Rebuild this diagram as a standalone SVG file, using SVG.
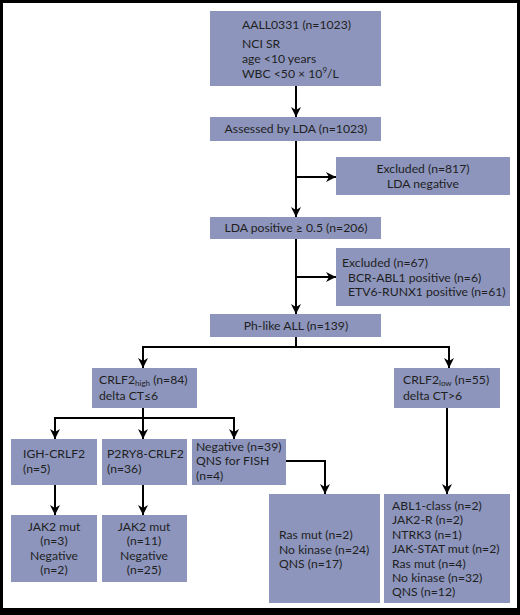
<svg xmlns="http://www.w3.org/2000/svg" width="520" height="615" viewBox="0 0 520 615">
<defs>
<marker id="ah" markerWidth="10" markerHeight="10" viewBox="0 0 10 10" refX="10" refY="5" orient="auto" markerUnits="userSpaceOnUse">
<path d="M0,0 L10,5 L0,10 L3,5 Z" fill="#000"/>
</marker>
<style>
.box{fill:#8d95bc;}
.t{font-family:Lato,"Open Sans","Liberation Sans",sans-serif;font-size:12.2px;fill:#1f1f1f;}
.c{text-anchor:middle;}
.sub{font-size:8px;}
.ln{fill:none;stroke:#000;stroke-width:2;}
</style>
</defs>
<rect x="0" y="0" width="520" height="615" fill="#000"/>
<rect x="3" y="3" width="514" height="605" fill="#fff"/>

<g id="connectors">
<path class="ln" d="M296,86 V117" marker-end="url(#ah)"/>
<path class="ln" d="M296,141 V217" marker-end="url(#ah)"/>
<path class="ln" d="M296,177 H336" marker-end="url(#ah)"/>
<path class="ln" d="M296,239 V314" marker-end="url(#ah)"/>
<path class="ln" d="M296,277 H336" marker-end="url(#ah)"/>
<path class="ln" d="M296,337 V347"/>
<path class="ln" d="M143,347 H449"/>
<path class="ln" d="M143,346 V368" marker-end="url(#ah)"/>
<path class="ln" d="M449,346 V368" marker-end="url(#ah)"/>
<path class="ln" d="M143,408 V418"/>
<path class="ln" d="M55,418 H234"/>
<path class="ln" d="M55,417 V439" marker-end="url(#ah)"/>
<path class="ln" d="M143,417 V439" marker-end="url(#ah)"/>
<path class="ln" d="M234,417 V439" marker-end="url(#ah)"/>
<path class="ln" d="M286,461 H325 V494" marker-end="url(#ah)"/>
<path class="ln" d="M55,485 V515" marker-end="url(#ah)"/>
<path class="ln" d="M143,485 V515" marker-end="url(#ah)"/>
<path class="ln" d="M447,408 V494" marker-end="url(#ah)"/>
</g>

<g id="n-aall">
<rect class="box" x="210" y="11" width="171" height="75"/>
<text class="t" x="242" y="29">AALL0331 (n=1023)</text>
<text class="t" x="242" y="48">NCI SR</text>
<text class="t" x="242" y="63">age &lt;10 years</text>
<text class="t" x="242" y="78">WBC &lt;50 × 10<tspan class="sub" dy="-5">9</tspan><tspan dy="5">/L</tspan></text>
</g>

<g id="n-assessed">
<rect class="box" x="210" y="117" width="171" height="24"/>
<text class="t c" x="296" y="133">Assessed by LDA (n=1023)</text>
</g>

<g id="n-excl817">
<rect class="box" x="336" y="157" width="174" height="38"/>
<text class="t c" x="423" y="173">Excluded (n=817)</text>
<text class="t c" x="423" y="188">LDA negative</text>
</g>

<g id="n-ldapos">
<rect class="box" x="210" y="217" width="171" height="22"/>
<text class="t c" x="296" y="232">LDA positive ≥ 0.5 (n=206)</text>
</g>

<g id="n-excl67">
<rect class="box" x="336" y="248" width="174" height="58"/>
<text class="t" x="342" y="267">Excluded (n=67)</text>
<text class="t" x="348" y="282">BCR-ABL1 positive (n=6)</text>
<text class="t" x="348" y="296">ETV6-RUNX1 positive (n=61)</text>
</g>

<g id="n-phlike">
<rect class="box" x="210" y="314" width="171" height="23"/>
<text class="t c" x="296" y="330">Ph-like ALL (n=139)</text>
</g>

<g id="n-crlf2high">
<rect class="box" x="92" y="368" width="105" height="40"/>
<text class="t" x="99" y="384">CRLF2<tspan class="sub" dy="2">high</tspan><tspan dy="-2"> (n=84)</tspan></text>
<text class="t" x="99" y="400">delta CT≤6</text>
</g>

<g id="n-crlf2low">
<rect class="box" x="394" y="368" width="106" height="40"/>
<text class="t" x="403" y="384">CRLF2<tspan class="sub" dy="2">low</tspan><tspan dy="-2"> (n=55)</tspan></text>
<text class="t" x="403" y="400">delta CT&gt;6</text>
</g>

<g id="n-igh">
<rect class="box" x="11" y="439" width="86" height="46"/>
<text class="t" x="23" y="458">IGH-CRLF2</text>
<text class="t" x="23" y="473">(n=5)</text>
</g>

<g id="n-p2ry8">
<rect class="box" x="102" y="439" width="85" height="46"/>
<text class="t" x="107" y="458">P2RY8-CRLF2</text>
<text class="t" x="107" y="473">(n=36)</text>
</g>

<g id="n-negative">
<rect class="box" x="192" y="439" width="94" height="46"/>
<text class="t" x="196" y="451">Negative (n=39)</text>
<text class="t" x="196" y="465">QNS for FISH</text>
<text class="t" x="196" y="480">(n=4)</text>
</g>

<g id="n-jak2-igh">
<rect class="box" x="11" y="515" width="86" height="67"/>
<text class="t c" x="54" y="531">JAK2 mut</text>
<text class="t c" x="54" y="545">(n=3)</text>
<text class="t c" x="54" y="560">Negative</text>
<text class="t c" x="54" y="574">(n=2)</text>
</g>

<g id="n-jak2-p2ry8">
<rect class="box" x="102" y="515" width="85" height="67"/>
<text class="t c" x="144" y="531">JAK2 mut</text>
<text class="t c" x="144" y="545">(n=11)</text>
<text class="t c" x="144" y="560">Negative</text>
<text class="t c" x="144" y="574">(n=25)</text>
</g>

<g id="n-ras">
<rect class="box" x="269" y="494" width="111" height="109"/>
<text class="t" x="279" y="539">Ras mut (n=2)</text>
<text class="t" x="279" y="554">No kinase (n=24)</text>
<text class="t" x="279" y="568">QNS (n=17)</text>
</g>

<g id="n-abl1">
<rect class="box" x="384" y="494" width="126" height="109"/>
<text class="t" x="392" y="510">ABL1-class (n=2)</text>
<text class="t" x="392" y="524">JAK2-R (n=2)</text>
<text class="t" x="392" y="539">NTRK3 (n=1)</text>
<text class="t" x="392" y="553">JAK-STAT mut (n=2)</text>
<text class="t" x="392" y="568">Ras mut (n=4)</text>
<text class="t" x="392" y="582">No kinase (n=32)</text>
<text class="t" x="392" y="596">QNS (n=12)</text>
</g>
</svg>
